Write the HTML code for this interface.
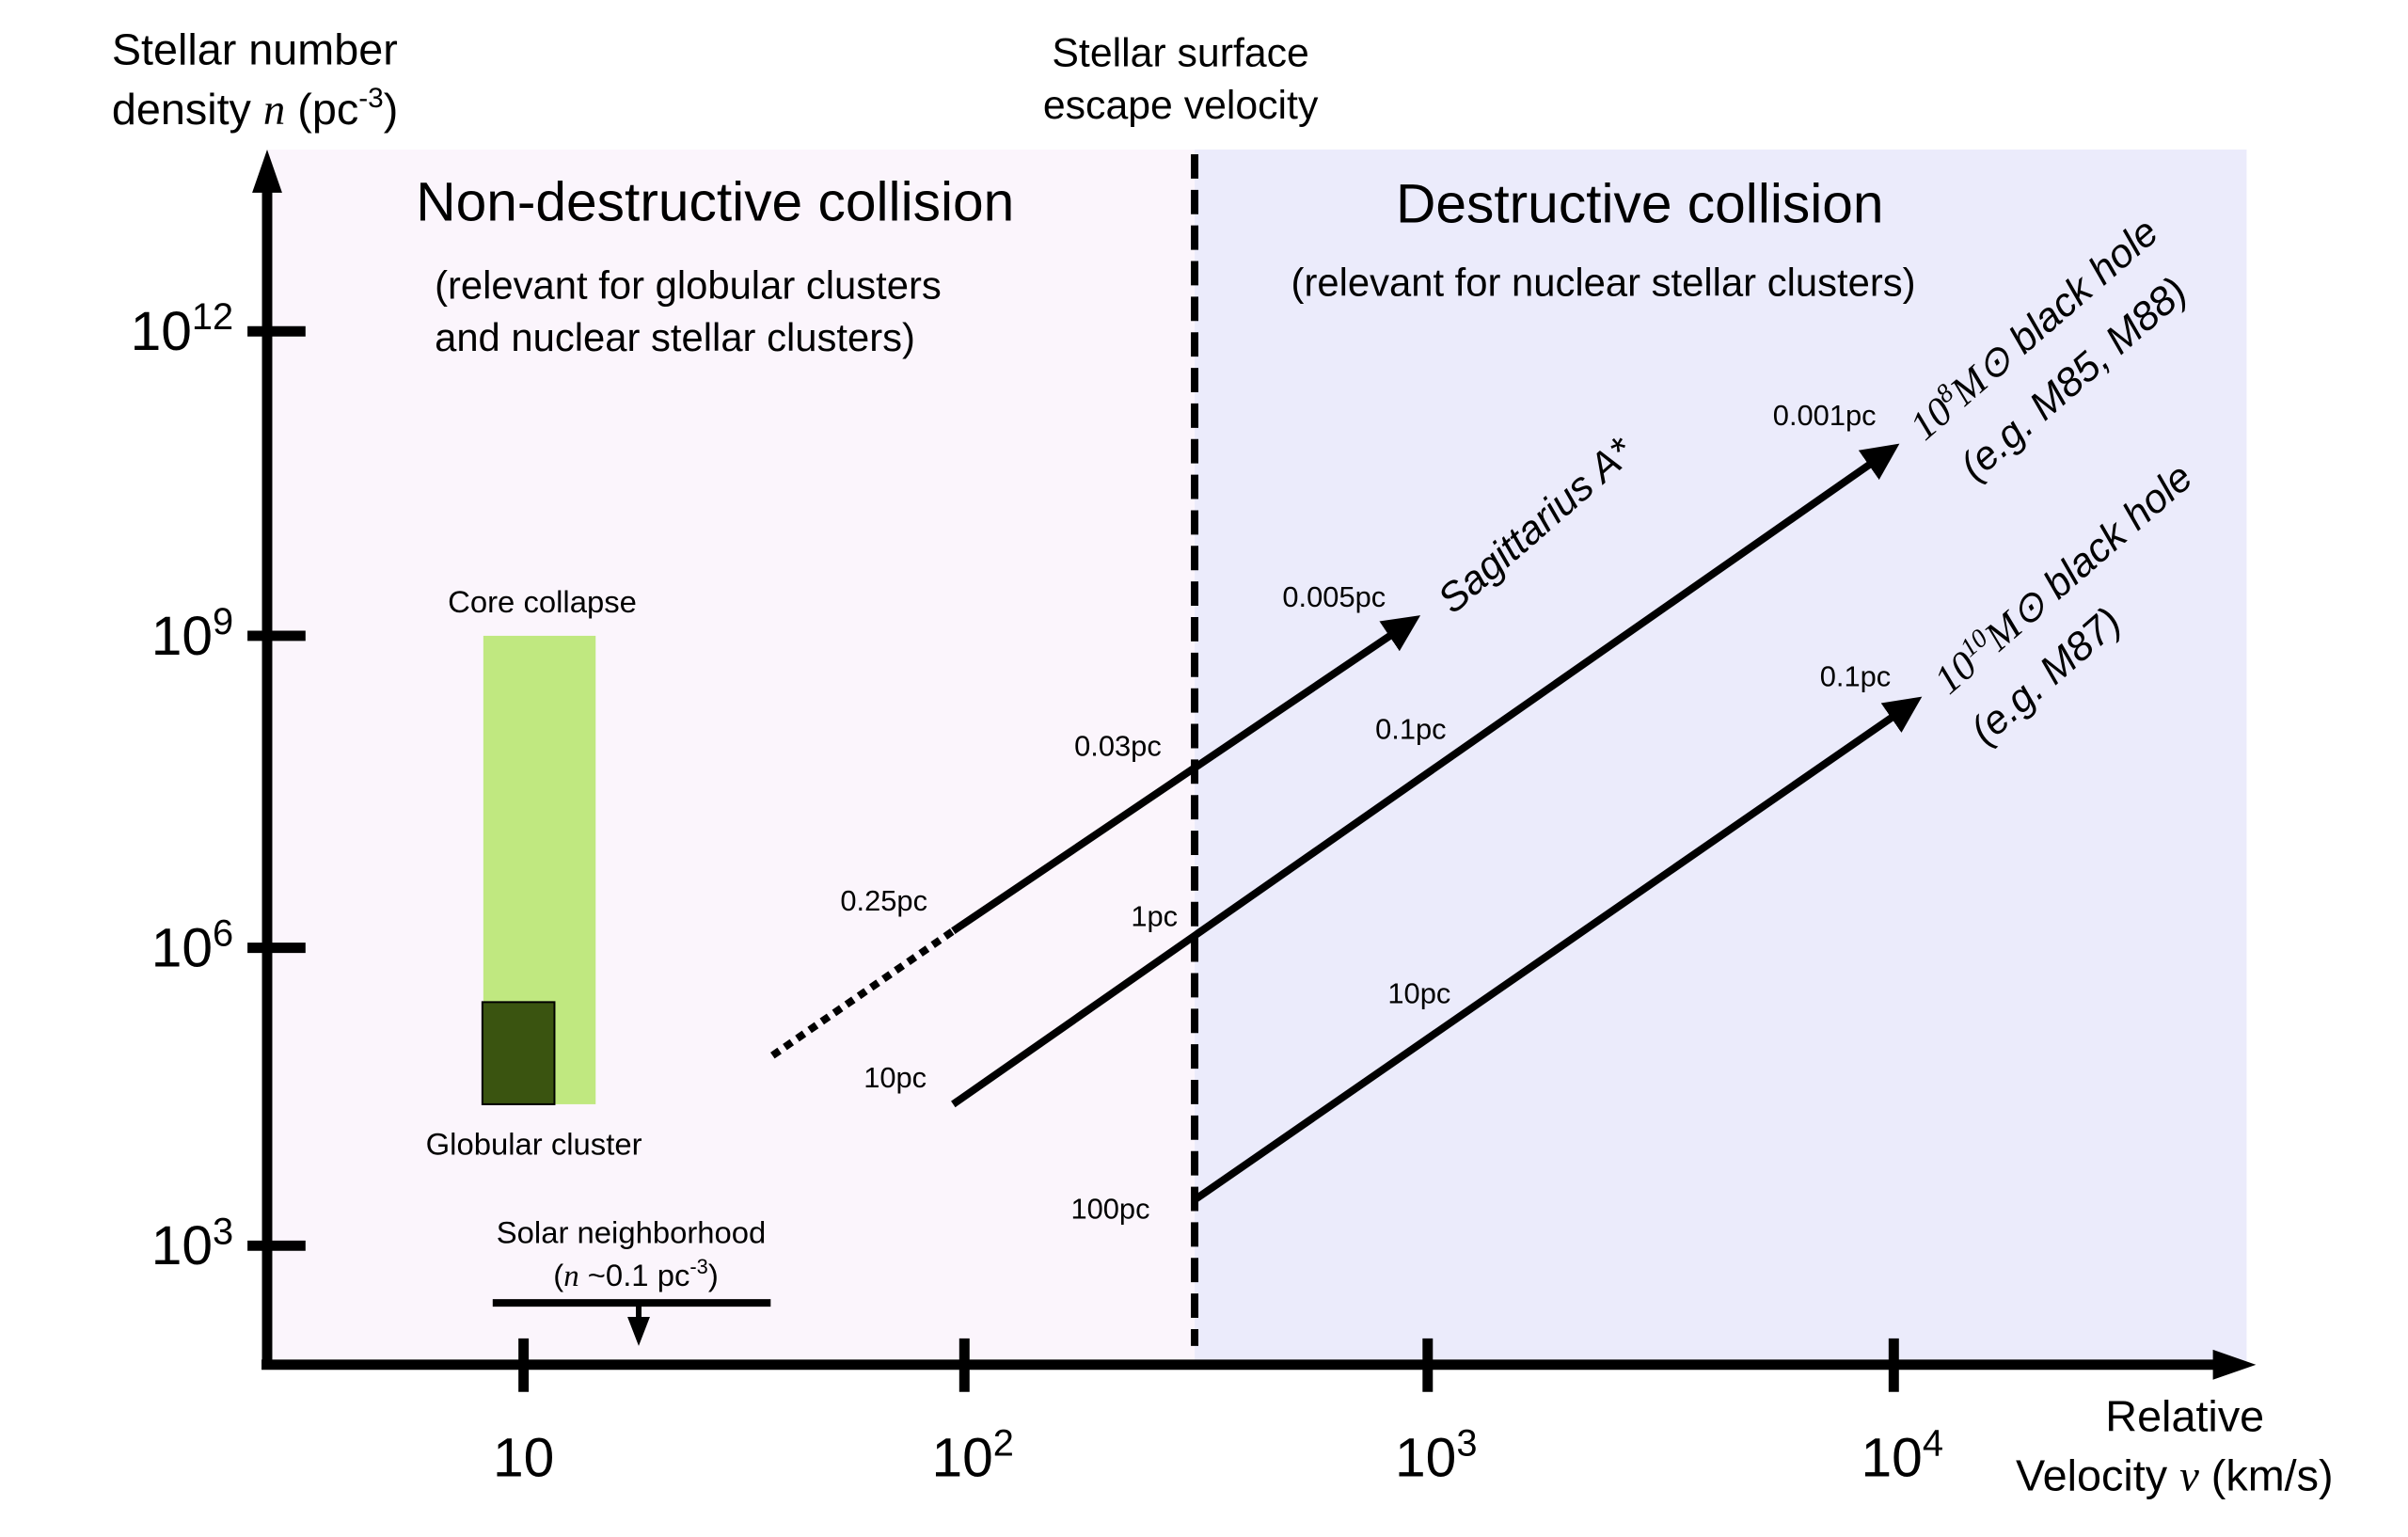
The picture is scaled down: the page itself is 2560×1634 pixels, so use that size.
<!DOCTYPE html>
<html><head><meta charset="utf-8"><style>html,body{margin:0;padding:0;background:#fff}svg{display:block}</style></head>
<body>
<svg width="2560" height="1634" viewBox="0 0 2560 1634" xmlns="http://www.w3.org/2000/svg" font-family="Liberation Sans, sans-serif">
<defs>
<marker id="ah" markerWidth="6" markerHeight="6" refX="3" refY="3" orient="auto" markerUnits="strokeWidth">
<path d="M0,0.6 L5,3 L0,5.4 Z" fill="#000"/></marker>
</defs>
<g transform="matrix(0.995,0,0,0.996,1.42,0.64)">
<rect x="284" y="159" width="991" height="1297" fill="#fbf5fc"/>
<rect x="1275" y="159" width="1124" height="1297" fill="#ebebfb"/>
<line x1="1275" y1="164" x2="1275" y2="1436" stroke="#000" stroke-width="8" stroke-dasharray="26,12"/>
<line x1="284" y1="1456" x2="284" y2="200" stroke="#000" stroke-width="11"/>
<path d="M284,159 L268,205 L300,205 Z" fill="#000"/>
<line x1="278" y1="1456" x2="2370" y2="1456" stroke="#000" stroke-width="11"/>
<path d="M2409,1456 L2363,1440 L2363,1472 Z" fill="#000"/>
<g stroke="#000" stroke-width="11">
<line x1="263" y1="353" x2="325" y2="353"/><line x1="263" y1="678" x2="325" y2="678"/>
<line x1="263" y1="1011" x2="325" y2="1011"/><line x1="263" y1="1329" x2="325" y2="1329"/>
<line x1="558" y1="1428" x2="558" y2="1485"/><line x1="1029" y1="1428" x2="1029" y2="1485"/>
<line x1="1524" y1="1428" x2="1524" y2="1485"/><line x1="2022" y1="1428" x2="2022" y2="1485"/>
</g>
<g font-size="59" text-anchor="end">
<text x="248" y="373">10<tspan font-size="40" dy="-22">12</tspan></text>
<text x="248" y="698">10<tspan font-size="40" dy="-22">9</tspan></text>
<text x="248" y="1031">10<tspan font-size="40" dy="-22">6</tspan></text>
<text x="248" y="1349">10<tspan font-size="40" dy="-22">3</tspan></text>
</g>
<g font-size="59" text-anchor="middle">
<text x="558" y="1575">10</text>
<text x="1038" y="1575">10<tspan font-size="40" dy="-22">2</tspan></text>
<text x="1533" y="1575">10<tspan font-size="40" dy="-22">3</tspan></text>
<text x="2031" y="1575">10<tspan font-size="40" dy="-22">4</tspan></text>
</g>
<g font-size="47">
<text x="118" y="68">Stellar number</text>
<text x="118" y="132">density <tspan font-family="Liberation Serif, serif" font-style="italic">n</tspan> (pc<tspan font-size="30" dy="-18">-3</tspan><tspan dy="18">)</tspan></text>
<text x="2333" y="1527" text-anchor="middle">Relative</text>
<text x="2322" y="1590" text-anchor="middle">Velocity <tspan font-family="Liberation Serif, serif" font-style="italic">v</tspan> (km/s)</text>
</g>
<g font-size="43" text-anchor="middle">
<text x="1260" y="70">Stellar surface</text>
<text x="1260" y="126">escape velocity</text>
</g>
<text x="443" y="235" font-size="59">Non-destructive collision</text>
<text x="1490" y="237" font-size="59">Destructive collision</text>
<g font-size="42">
<text x="463" y="318">(relevant for globular clusters</text>
<text x="463" y="374">and nuclear stellar clusters)</text>
<text x="1378" y="315">(relevant for nuclear stellar clusters)</text>
</g>
<rect x="515" y="678" width="120" height="500" fill="#c0e880"/>
<rect x="514" y="1069" width="77" height="109" fill="#3a5410" stroke="#000" stroke-width="2"/>
<g font-size="33" text-anchor="middle">
<text x="578" y="653">Core collapse</text>
<text x="569" y="1232">Globular cluster</text>
<text x="673" y="1326">Solar neighborhood</text>
<text x="678" y="1372">(<tspan font-family="Liberation Serif, serif" font-style="italic">n</tspan> ~0.1 pc<tspan font-size="22" dy="-13">-3</tspan><tspan dy="13">)</tspan></text>
</g>
<line x1="525" y1="1390" x2="822" y2="1390" stroke="#000" stroke-width="8"/>
<line x1="681" y1="1390" x2="681" y2="1410" stroke="#000" stroke-width="6"/>
<path d="M681,1436 L669,1405 L693,1405 Z" fill="#000"/>
<line x1="824" y1="1126" x2="1017" y2="993" stroke="#000" stroke-width="8" stroke-dasharray="9,7"/>
<g stroke="#000" stroke-width="8" fill="none">
<line x1="1017" y1="993" x2="1503" y2="665" marker-end="url(#ah)"/>
<line x1="1017" y1="1178" x2="2015" y2="482" marker-end="url(#ah)"/>
<line x1="1275" y1="1280" x2="2039" y2="752" marker-end="url(#ah)"/>
</g>
<g font-size="31" text-anchor="middle">
<text x="943" y="971">0.25pc</text>
<text x="1193" y="806">0.03pc</text>
<text x="1424" y="647">0.005pc</text>
<text x="1948" y="453">0.001pc</text>
<text x="1506" y="788">0.1pc</text>
<text x="1232" y="988">1pc</text>
<text x="955" y="1160">10pc</text>
<text x="1185" y="1300">100pc</text>
<text x="1515" y="1070">10pc</text>
<text x="1981" y="732">0.1pc</text>
</g>
<g font-size="43" font-style="italic">
<text transform="translate(1551,656) rotate(-41)">Sagittarius A*</text>
<text transform="translate(2055,471) rotate(-41)"><tspan font-family="Liberation Serif, serif">10<tspan font-size="28" dy="-16">8</tspan><tspan dy="16">M</tspan>⊙</tspan> black hole</text>
<text transform="translate(2109,514) rotate(-41)">(e.g. M85, M88)</text>
<text transform="translate(2081,742) rotate(-41)"><tspan font-family="Liberation Serif, serif">10<tspan font-size="28" dy="-16">10</tspan><tspan dy="16">M</tspan>⊙</tspan> black hole</text>
<text transform="translate(2120,796) rotate(-41)">(e.g. M87)</text>
</g>
</g>
</svg>
</body></html>
